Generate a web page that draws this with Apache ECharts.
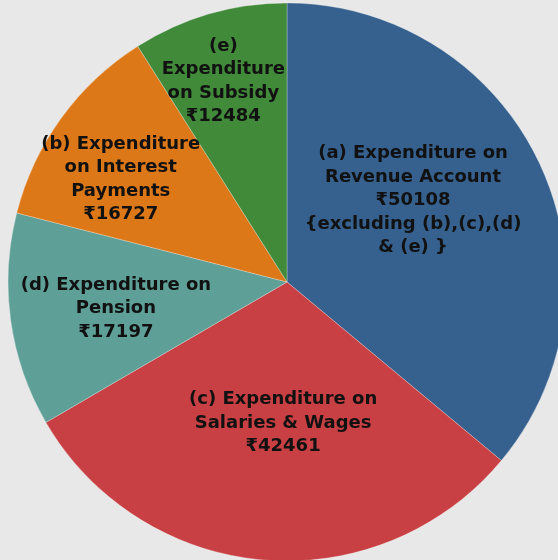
<!DOCTYPE html>
<html>
<head>
<meta charset="utf-8">
<script src="https://cdn.jsdelivr.net/npm/echarts@6/dist/echarts.min.js"></script>
<style>
  html, body { margin: 0; padding: 0; background: #e8e8e8; }
  #chart { width: 558px; height: 560px; }
</style>
</head>
<body>
<div id="chart"></div>
<script>
// slices, clockwise from 12 o'clock
const names = [
  '(a) Expenditure on\nRevenue Account',
  '(c) Expenditure on\nSalaries & Wages',
  '(d) Expenditure on\nPension',
  '(b) Expenditure\non Interest\nPayments',
  '(e)\nExpenditure\non Subsidy'
];
const values = [50108, 42461, 17197, 16727, 12484];
const notes = ['{excluding (b),(c),(d)\n& (e) }', '', '', '', ''];
const colors = ['#36618e', '#c84043', '#5e9f97', '#dc7817', '#408a3a'];
// nudge of each label away from the default inside spot
const labelShift = [[-3, -21], [8, -1], [-30, 7], [-51, -19], [-24, -64]];

const chart = echarts.init(document.getElementById('chart'));
chart.setOption({
  backgroundColor: '#e8e8e8',
  animation: false,
  series: [{
    type: 'pie',
    center: [287, 282],
    radius: [0, 279],
    startAngle: 90,
    clockwise: true,
    data: names.map((n, i) => ({
      name: n,
      value: values[i],
      itemStyle: { color: colors[i] }
    })),
    itemStyle: { borderColor: 'rgba(255,255,255,0.45)', borderWidth: 0.6 },
    label: {
      position: 'inside',
      color: '#111',
      fontFamily: '"DejaVu Sans", Verdana, sans-serif',
      fontWeight: 'bold',
      fontSize: 18,
      lineHeight: 23.5,
      align: 'center',
      formatter: p => p.name + '\n₹' + p.value + (notes[p.dataIndex] ? '\n' + notes[p.dataIndex] : '')
    },
    labelLine: { show: false },
    labelLayout: p => ({ dx: labelShift[p.dataIndex][0], dy: labelShift[p.dataIndex][1] }),
    emphasis: { disabled: true }
  }]
});
</script>
</body>
</html>
